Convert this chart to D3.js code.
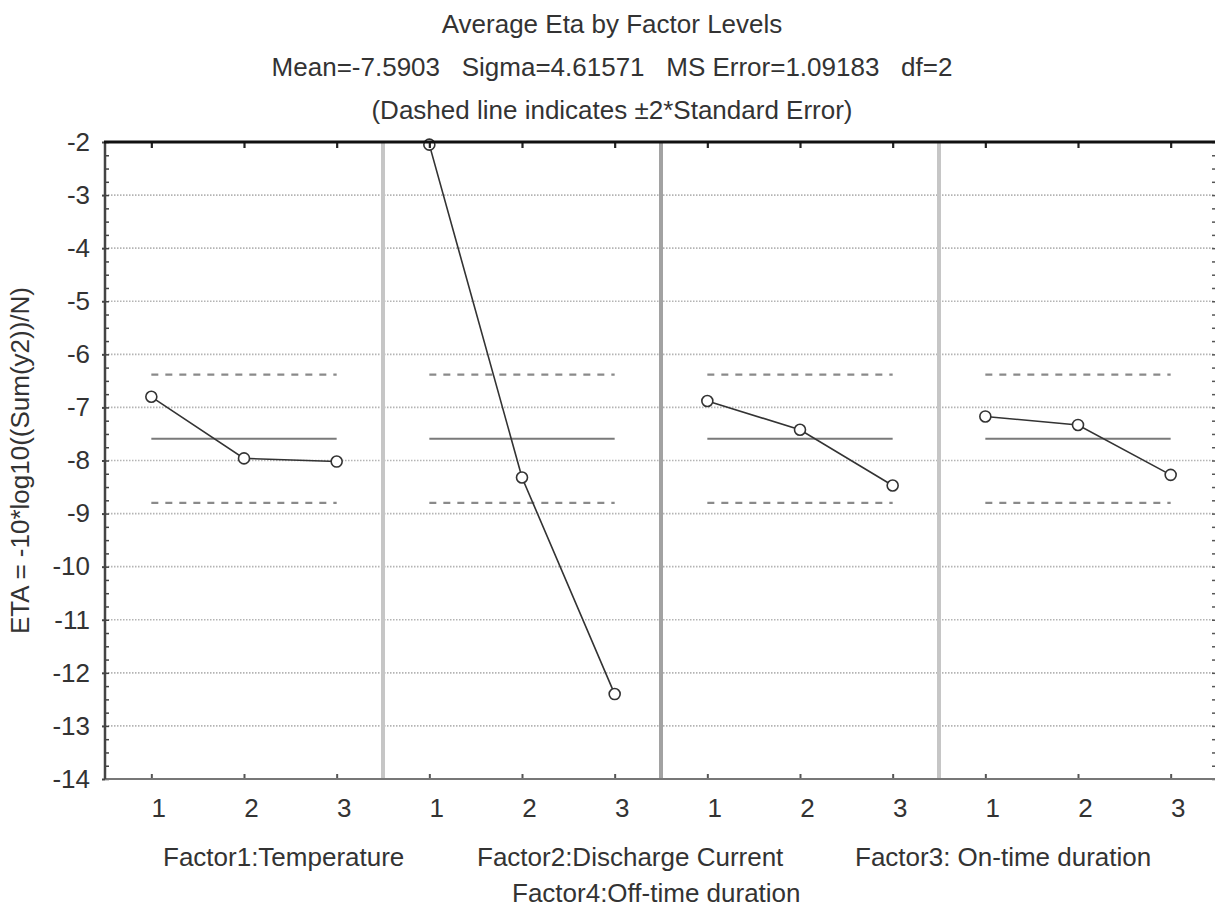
<!DOCTYPE html>
<html>
<head>
<meta charset="utf-8">
<script src="https://cdn.jsdelivr.net/npm/d3@7"></script>
<style>
  body { margin: 0; background: #fff; }
  text { font-family: "Liberation Sans", Arial, sans-serif; fill: #333; }
</style>
</head>
<body>
<script>
// chart data
const titleLines = [
  "Average Eta by Factor Levels",
  "Mean=-7.5903   Sigma=4.61571   MS Error=1.09183   df=2",
  "(Dashed line indicates \u00b12*Standard Error)"
];
const yLabel = "ETA = -10*log10((Sum(y2))/N)";
const factors = ["Factor1:Temperature", "Factor2:Discharge Current", "Factor3: On-time duration", "Factor4:Off-time duration"];
const levels = [1, 2, 3];
const etaF1 = [-6.80, -7.96, -8.02];
const etaF2 = [-2.05, -8.32, -12.40];
const etaF3 = [-6.88, -7.42, -8.47];
const etaF4 = [-7.17, -7.33, -8.27];
const yTicks = [-14, -13, -12, -11, -10, -9, -8, -7, -6, -5, -4, -3, -2];
const grandMean = -7.5903;
const msError = 1.09183;
const nPerLevel = 3;

const series = [etaF1, etaF2, etaF3, etaF4];
const twoSE = 2 * Math.sqrt(msError / nPerLevel);

// layout
const W = 1215, H = 907;
const plot = {left: 105, right: 1217, top: 142, bottom: 779};
const fontSize = 26;
const factorLabelPos = [[163, 866], [477, 866], [855, 866], [512, 902]];
const sepColors = ["#c6c6c6", "#a2a2a2", "#c6c6c6"];
const fontFamily = "'Liberation Sans', Arial, sans-serif";

const svg = d3.select("body").append("svg")
    .attr("width", W)
    .attr("height", H);

const y = d3.scaleLinear().domain([-14, -2]).range([plot.bottom, plot.top]);
const xOuter = d3.scaleBand().domain(d3.range(factors.length)).range([plot.left, plot.right]);
const xInner = d3.scalePoint().domain(levels).range([0, xOuter.bandwidth()]).padding(0.5);

// titles
svg.selectAll(".title")
  .data(titleLines)
  .join("text")
    .attr("class", "title")
    .attr("x", 612)
    .attr("y", (d, i) => 33 + i * 43)
    .attr("text-anchor", "middle")
    .attr("xml:space", "preserve")
    .style("white-space", "pre")
    .style("font-size", fontSize + "px")
    .text(d => d);

// dotted grid
svg.append("g")
  .selectAll("line")
  .data(yTicks.filter(v => v > -14 && v < -2))
  .join("line")
    .attr("x1", plot.left).attr("x2", plot.right)
    .attr("y1", d => y(d)).attr("y2", d => y(d))
    .attr("stroke", "#b4b4b4")
    .attr("stroke-width", 1.6)
    .attr("stroke-dasharray", "1.5,1.5");

// panel separators
svg.append("g")
  .selectAll("line")
  .data(d3.range(1, factors.length))
  .join("line")
    .attr("x1", d => xOuter(d)).attr("x2", d => xOuter(d))
    .attr("y1", plot.top).attr("y2", plot.bottom)
    .attr("stroke", (d, i) => sepColors[i])
    .attr("stroke-width", 4);

const line = d3.line()
    .x((d, i) => xInner(levels[i]))
    .y(d => y(d));

const panels = svg.selectAll(".panel")
  .data(series)
  .join("g")
    .attr("class", "panel")
    .attr("transform", (d, i) => "translate(" + xOuter(i) + ",0)");

// mean and +-2*SE lines
const x1 = xInner(levels[0]), x3 = xInner(levels[levels.length - 1]);
panels.append("line")
    .attr("x1", x1).attr("x2", x3)
    .attr("y1", y(grandMean)).attr("y2", y(grandMean))
    .attr("stroke", "#7a7a7a").attr("stroke-width", 2.2);
[grandMean + twoSE, grandMean - twoSE].forEach(v => {
  panels.append("line")
      .attr("x1", x1).attr("x2", x3)
      .attr("y1", y(v)).attr("y2", y(v))
      .attr("stroke", "#8a8a8a").attr("stroke-width", 2.2)
      .attr("stroke-dasharray", "7,7");
});

// data lines and markers
panels.append("path")
    .attr("d", d => line(d))
    .attr("fill", "none")
    .attr("stroke", "#333")
    .attr("stroke-width", 1.6);
panels.selectAll("circle")
  .data(d => d)
  .join("circle")
    .attr("cx", (d, i) => xInner(levels[i]))
    .attr("cy", d => y(d))
    .attr("r", 5.5)
    .attr("fill", "#fff")
    .attr("stroke", "#333")
    .attr("stroke-width", 1.6);

// bottom and top category axes
panels.append("g")
    .attr("transform", "translate(0," + plot.bottom + ")")
    .call(d3.axisBottom(xInner).tickSize(-5).tickPadding(20))
    .call(g => g.select(".domain").remove())
    .call(g => g.selectAll(".tick line").attr("stroke", "#555").attr("stroke-width", 2))
    .call(g => g.selectAll(".tick text").attr("dx", 7).style("font-size", fontSize + "px")
        .style("font-family", fontFamily).attr("fill", "#333"));
panels.append("g")
    .attr("transform", "translate(0," + plot.top + ")")
    .call(d3.axisTop(xInner).tickSize(-6).tickFormat(""))
    .call(g => g.select(".domain").remove())
    .call(g => g.selectAll(".tick line").attr("stroke", "#222").attr("stroke-width", 2.2));

// left axis: labels, major and minor ticks
const minorTicks = d3.range(-14, -1.9, 0.25);
svg.append("g")
    .attr("transform", "translate(" + plot.left + ",0)")
    .call(d3.axisLeft(y).tickValues(yTicks).tickSize(0).tickPadding(15).tickFormat(d => String(d)))
    .call(g => g.select(".domain").remove())
    .call(g => g.selectAll(".tick text").style("font-size", fontSize + "px")
        .style("font-family", fontFamily).attr("fill", "#333"));
svg.append("g")
    .attr("transform", "translate(" + plot.left + ",0)")
    .call(d3.axisLeft(y).tickValues(minorTicks).tickSize(-4).tickFormat(""))
    .call(g => g.select(".domain").remove())
    .call(g => g.selectAll(".tick line").attr("stroke", "#444").attr("stroke-width", 1.5));
svg.append("g")
    .attr("transform", "translate(" + plot.left + ",0)")
    .call(d3.axisLeft(y).tickValues(yTicks).tickSize(3).tickFormat(""))
    .call(g => g.select(".domain").remove())
    .call(g => g.selectAll(".tick line").attr("stroke", "#444").attr("stroke-width", 2));
svg.append("g")
    .attr("transform", "translate(" + plot.right + ",0)")
    .call(d3.axisRight(y).tickValues(minorTicks).tickSize(-5).tickFormat(""))
    .call(g => g.select(".domain").remove())
    .call(g => g.selectAll(".tick line").attr("stroke", "#555").attr("stroke-width", 1.5));

// frame
svg.append("line")
    .attr("x1", plot.left).attr("x2", plot.right)
    .attr("y1", plot.bottom).attr("y2", plot.bottom)
    .attr("stroke", "#777").attr("stroke-width", 2);
svg.append("line")
    .attr("x1", plot.left).attr("x2", plot.left)
    .attr("y1", plot.top).attr("y2", plot.bottom)
    .attr("stroke", "#444").attr("stroke-width", 2.5);
svg.append("line")
    .attr("x1", plot.left - 1).attr("x2", plot.right)
    .attr("y1", plot.top).attr("y2", plot.top)
    .attr("stroke", "#111").attr("stroke-width", 3);

// factor names
svg.selectAll(".factor")
  .data(factors)
  .join("text")
    .attr("class", "factor")
    .attr("x", (d, i) => factorLabelPos[i][0])
    .attr("y", (d, i) => factorLabelPos[i][1])
    .style("font-size", fontSize + "px")
    .text(d => d);

// y axis title
svg.append("text")
    .attr("transform", "translate(29," + ((plot.top + plot.bottom) / 2) + ") rotate(-90)")
    .attr("text-anchor", "middle")
    .style("font-size", fontSize + "px")
    .text(yLabel);
</script>
</body>
</html>
